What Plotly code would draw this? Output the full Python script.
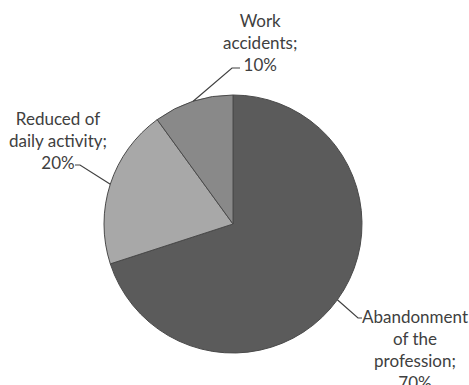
import math
import plotly.graph_objects as go

labels = ["Abandonment of the profession", "Reduced of daily activity", "Work accidents"]
values = [70, 20, 10]
label_lines = [["Abandonment", "of the", "profession;"], ["Reduced of", "daily activity;"], ["Work", "accidents;"]]
colors = ["#5b5b5b", "#a8a8a8", "#898989"]

W, H = 469, 385
CX, CY, R = 233, 224, 129

fig = go.Figure(go.Pie(
    labels=labels, values=values, sort=False, direction="clockwise", rotation=0,
    marker=dict(colors=colors, line=dict(color="#4a4a4a", width=1)),
    textinfo="none", hoverinfo="label+percent",
    domain=dict(x=[(CX - R) / W, (CX + R) / W], y=[1 - (CY + R) / H, 1 - (CY - R) / H]),
    showlegend=False,
))

def px(x, y):
    return x / W, 1 - y / H

# label text block centres (pixels) and leader elbow points (layout)
text_pos = [(415, 349), (58, 140), (260, 42)]
elbow = [((358, 318), (362, 318)), ((80, 165), (75, 165)), ((232, 68), (240, 68))]

total = sum(values)
cum = 0
shapes = []
annotations = []
for i, v in enumerate(values):
    mid = (cum + v / 2) / total * 2 * math.pi
    cum += v
    ex = CX + R * math.sin(mid)
    ey = CY - R * math.cos(mid)
    (bx, by), (cx2, cy2) = elbow[i]
    p0 = px(ex, ey); p1 = px(bx, by); p2 = px(cx2, cy2)
    shapes.append(dict(type="path", xref="paper", yref="paper",
                       path=f"M {p0[0]} {p0[1]} L {p1[0]} {p1[1]} L {p2[0]} {p2[1]}",
                       line=dict(color="#404040", width=1.2)))
    pct = f"{round(v / total * 100)}%"
    text = "<br>".join(label_lines[i] + [pct])
    tx, ty = px(*text_pos[i])
    annotations.append(dict(x=tx, y=ty, xref="paper", yref="paper", text=text,
                            showarrow=False, align="center", xanchor="center", yanchor="middle",
                            font=dict(family="Lato, Open Sans, sans-serif", size=17, color="#404040")))

fig.update_layout(width=W, height=H, margin=dict(l=0, r=0, t=0, b=0),
                  paper_bgcolor="white", plot_bgcolor="white",
                  shapes=shapes, annotations=annotations)
fig.write_html("out.html")
